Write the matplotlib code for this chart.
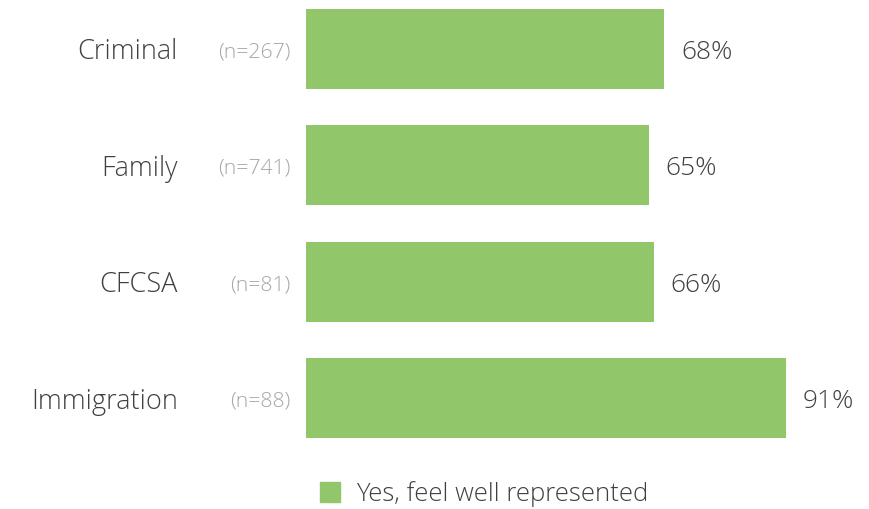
import numpy as np
from matplotlib import pyplot as plt
from matplotlib.patches import Patch

# datos del grafico
categorias = ['Criminal', 'Family', 'CFCSA', 'Immigration']
muestras = ['(n=267)', '(n=741)', '(n=81)', '(n=88)']
valores = [68, 65, 66, 91]
serie = 'Yes, feel well represented'

verde = '#92c66a'
gris_oscuro = '#404040'
gris_claro = '#a6a6a6'

plt.rcParams['font.family'] = ['Open Sans', 'DejaVu Sans']
plt.rcParams['font.weight'] = 'light'

fig = plt.figure(figsize=(8.69, 5.09), dpi=100)
# ejes ubicados en pixeles: x desde 306 (0%) con 527 px hasta 100%
ax = fig.add_axes([306 / 869, 1 - 442 / 509, 527 / 869, 437 / 509])

y = np.arange(len(categorias))
ax.barh(y, valores, height=0.69, color=verde)
ax.set_xlim(0, 100)
ax.set_ylim(3.378, -0.378)
ax.axis('off')

# pequeño desplazamiento hacia abajo de los textos
dy = 0.03
for i in range(len(categorias)):
    ax.text(-24.3, y[i] + dy, categorias[i], ha='right', va='center',
            fontsize=19.5, color=gris_oscuro)
    ax.text(-3.0, y[i] + dy, muestras[i], ha='right', va='center',
            fontsize=15.3, color=gris_claro)
    ax.text(valores[i] + 3.2, y[i] + dy, str(valores[i]) + '%', ha='left',
            va='center', fontsize=19, color=gris_oscuro)

fig.legend(handles=[Patch(color=verde, label=serie)], loc='center',
           bbox_to_anchor=(484 / 869, 1 - 494 / 509), frameon=False,
           fontsize=18.5, labelcolor=gris_oscuro, handlelength=0.8,
           handleheight=0.8, handletextpad=0.6)

fig.savefig('out.png', dpi=100)
